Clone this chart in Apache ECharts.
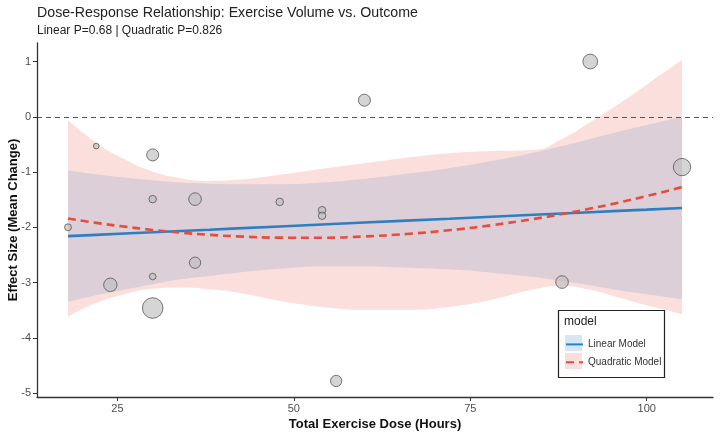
<!DOCTYPE html>
<html>
<head>
<meta charset="utf-8">
<script src="https://cdn.jsdelivr.net/npm/echarts@6/dist/echarts.min.js"></script>
<style>
  html, body { margin: 0; padding: 0; background: #fff; }
  #chart { width: 720px; height: 435px; }
</style>
</head>
<body>
<div id="chart"></div>
<script>
// studies: dose (hours), effect size, weight
const doses   = [18, 22, 24, 30, 30, 30, 30, 36, 36, 48, 54, 54, 56, 60, 88, 92, 105];
const effects = [-2.0, -0.53, -3.04, -0.69, -1.49, -2.89, -3.46, -1.49, -2.64, -1.54, -1.69, -1.79, -4.78, 0.30, -2.99, 1.00, -0.91];
const weights = [12, 8, 45, 36, 14, 11, 106, 40, 32, 14, 14, 14, 32, 36, 40, 54, 75];

// fitted curves and confidence bands
const fitX        = [18, 22, 26, 30, 34, 38, 42, 48, 54, 60, 66, 72, 78, 84, 88, 92, 96, 100, 105];
const linearFit   = [-2.16, -2.137, -2.113, -2.09, -2.066, -2.043, -2.019, -1.984, -1.949, -1.914, -1.879, -1.844, -1.808, -1.773, -1.75, -1.726, -1.703, -1.68, -1.65];
const linearUpper = [-0.97, -1.04, -1.10, -1.15, -1.19, -1.21, -1.22, -1.22, -1.19, -1.12, -1.03, -0.93, -0.80, -0.65, -0.53, -0.40, -0.27, -0.15, 0.0];
const linearLower = [-3.35, -3.23, -3.13, -3.03, -2.94, -2.88, -2.82, -2.75, -2.71, -2.71, -2.73, -2.76, -2.82, -2.90, -2.97, -3.05, -3.14, -3.21, -3.30];
const quadFit     = [-1.84, -1.919, -1.988, -2.047, -2.096, -2.135, -2.163, -2.187, -2.188, -2.165, -2.12, -2.053, -1.962, -1.848, -1.76, -1.661, -1.553, -1.434, -1.271];
const quadUpper   = [-0.06, -0.47, -0.77, -0.99, -1.11, -1.16, -1.14, -1.05, -0.94, -0.84, -0.74, -0.66, -0.62, -0.60, -0.40, -0.10, 0.23, 0.58, 1.03];
const quadLower   = [-3.62, -3.37, -3.21, -3.11, -3.09, -3.12, -3.18, -3.33, -3.44, -3.49, -3.49, -3.44, -3.31, -3.12, -3.06, -3.13, -3.27, -3.41, -3.57];

const xTicks = [25, 50, 75, 100];
const yTicks = [-5, -4, -3, -2, -1, 0, 1];

const FONT = 'Liberation Sans, Arial, sans-serif';
const PINK = '#fbdfdc';      // quadratic band alone
const MAUVE = '#dccfd7';     // both bands overlapping

const chart = echarts.init(document.getElementById('chart'));

const pairs = (xs, ys) => xs.map((x, i) => [x, ys[i]]);

// band edges filled down to the axis floor, layered so the nested bands show
const edgeFill = (ys, color) => ({
  type: 'line',
  data: pairs(fitX, ys),
  symbol: 'none',
  smooth: true,
  silent: true,
  lineStyle: { opacity: 0 },
  areaStyle: { color: color, opacity: 1, origin: 'start' },
  z: 1
});

const axisText = { color: '#4d4d4d', fontSize: 11, fontFamily: FONT };

const option = {
  animation: false,
  backgroundColor: '#fff',
  title: {
    text: 'Dose-Response Relationship: Exercise Volume vs. Outcome',
    subtext: 'Linear P=0.68 | Quadratic P=0.826',
    left: 32,
    top: 1,
    itemGap: 5,
    textStyle: { color: '#222', fontSize: 14.2, fontWeight: 'normal', fontFamily: FONT },
    subtextStyle: { color: '#222', fontSize: 12, fontFamily: FONT }
  },
  grid: { left: 37, right: 7, top: 43, bottom: 38, outerBoundsMode: 'none', containLabel: false },
  xAxis: {
    type: 'value',
    min: 13.6075,
    max: 109.3925,
    z: 10,
    name: 'Total Exercise Dose (Hours)',
    nameLocation: 'middle',
    nameGap: 21,
    nameMoveOverlap: false,
    nameTextStyle: { color: '#111', fontSize: 13, fontWeight: 'bold', fontFamily: FONT },
    axisLine: { show: true, onZero: false, lineStyle: { color: '#333', width: 1.3 } },
    axisTick: { show: true, length: 4, customValues: xTicks, lineStyle: { color: '#333' } },
    axisLabel: Object.assign({ margin: 6, customValues: xTicks }, axisText),
    splitLine: { show: false }
  },
  yAxis: {
    type: 'value',
    min: -5.07,
    max: 1.335,
    z: 10,
    name: 'Effect Size (Mean Change)',
    nameLocation: 'middle',
    nameGap: 17,
    nameRotate: 90,
    nameMoveOverlap: false,
    nameTextStyle: { color: '#111', fontSize: 13, fontWeight: 'bold', fontFamily: FONT },
    axisLine: { show: true, onZero: false, lineStyle: { color: '#333', width: 1.3 } },
    axisTick: { show: true, length: 4, customValues: yTicks, lineStyle: { color: '#333' } },
    axisLabel: Object.assign({ margin: 6, customValues: yTicks }, axisText),
    splitLine: { show: false }
  },
  legend: {
    data: ['Linear Model', 'Quadratic Model'],
    orient: 'vertical',
    left: 565,
    top: 338,
    padding: 0,
    itemWidth: 17,
    itemHeight: 16,
    itemGap: 5,
    z: 20,
    itemStyle: { opacity: 0 },
    textStyle: { color: '#333', fontSize: 10, fontFamily: FONT }
  },
  graphic: [
    { type: 'rect', z: 10, shape: { x: 558.5, y: 310.5, width: 106, height: 67 }, style: { fill: '#fff', stroke: '#222', lineWidth: 1.2 } },
    { type: 'text', z: 11, x: 564, y: 316, style: { text: 'model', fill: '#222', fontSize: 12, fontFamily: FONT } },
    { type: 'rect', z: 11, shape: { x: 565, y: 335, width: 17, height: 16 }, style: { fill: '#d6e6f4' } },
    { type: 'rect', z: 11, shape: { x: 565, y: 353, width: 17, height: 16 }, style: { fill: PINK } }
  ],
  series: [
    edgeFill(quadUpper, PINK),
    edgeFill(linearUpper, MAUVE),
    edgeFill(linearLower, PINK),
    edgeFill(quadLower, '#ffffff'),
    {
      type: 'line',
      name: 'Linear Model',
      data: pairs(fitX, linearFit),
      symbol: 'none',
      lineStyle: { color: '#2e7fc2', width: 2.6 },
      itemStyle: { color: '#2e7fc2' },
      z: 3
    },
    {
      type: 'line',
      name: 'Quadratic Model',
      data: pairs(fitX, quadFit),
      symbol: 'none',
      smooth: true,
      lineStyle: { color: '#e74c3c', width: 2.6, type: [8, 5] },
      itemStyle: { color: '#e74c3c' },
      z: 3
    },
    {
      type: 'scatter',
      name: 'studies',
      data: doses.map((d, i) => [d, effects[i], weights[i]]),
      symbolSize: v => 2 * Math.sqrt(v[2]),
      itemStyle: { color: 'rgba(190,190,190,0.8)', borderColor: '#555', borderWidth: 1 },
      z: 4,
      markLine: {
        silent: true,
        symbol: 'none',
        label: { show: false },
        lineStyle: { color: '#555', width: 1, type: [5, 4] },
        data: [{ yAxis: 0 }]
      }
    }
  ]
};

chart.setOption(option);
</script>
</body>
</html>
